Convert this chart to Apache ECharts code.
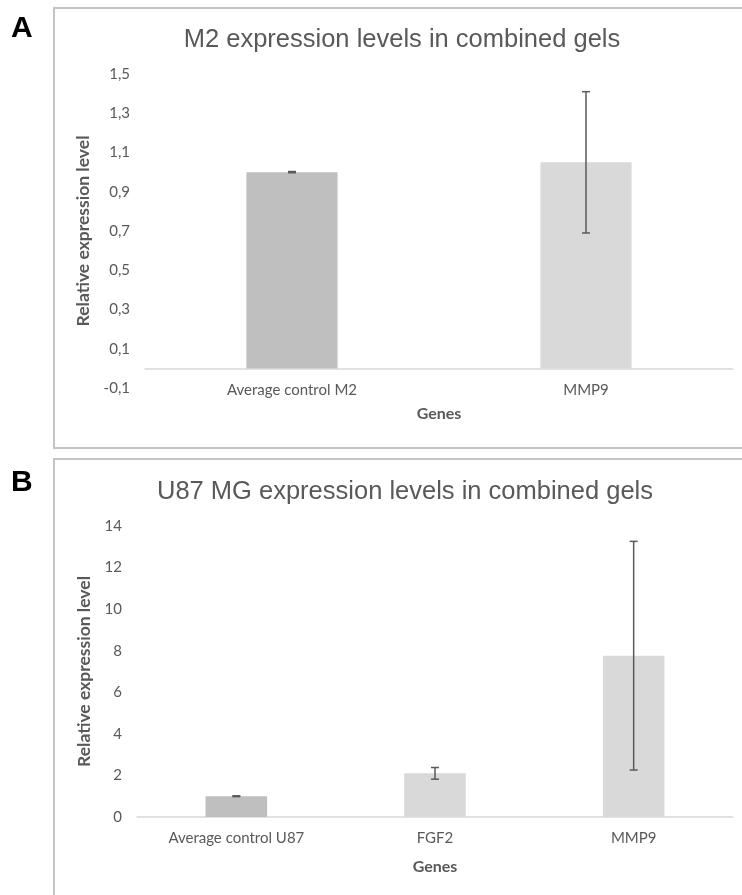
<!DOCTYPE html>
<html>
<head>
<meta charset="utf-8">
<script src="https://cdn.jsdelivr.net/npm/echarts@6/dist/echarts.min.js"></script>
<style>
  html, body { margin: 0; padding: 0; background: #fff; }
  #chart { width: 742px; height: 895px; }
</style>
</head>
<body>
<div id="chart"></div>
<script>
// panel A - M2
const genesA = ['Average control M2', 'MMP9'];
const meanA = [1.0, 1.05];
const errA = [0.003, 0.36];
const ticksA = [-0.1, 0.1, 0.3, 0.5, 0.7, 0.9, 1.1, 1.3, 1.5];

// panel B - U87 MG
const genesB = ['Average control U87', 'FGF2', 'MMP9'];
const meanB = [1.0, 2.1, 7.76];
const errB = [0.02, 0.28, 5.5];
const ticksB = [0, 2, 4, 6, 8, 10, 12, 14];

const barColors = ['#bfbfbf', '#d9d9d9'];
const textGray = '#595959';
const labelFont = 'Lato';

const chart = echarts.init(document.getElementById('chart'));

const barData = (vals) => vals.map((v, i) => ({
  value: v,
  itemStyle: { color: i === 0 ? barColors[0] : barColors[1] }
}));

const errData = (means, errs) => means.map((m, i) => [i, m, errs[i]]);

// I-shaped error bar
const renderErr = (params, api) => {
  const i = api.value(0);
  const m = api.value(1);
  const e = api.value(2);
  const top = api.coord([i, m + e]);
  const bot = api.coord([i, m - e]);
  const cap = 4;
  const style = { stroke: '#5a5a5a', lineWidth: 1.5 };
  return {
    type: 'group',
    children: [
      { type: 'line', shape: { x1: top[0], y1: top[1], x2: bot[0], y2: bot[1] }, style },
      { type: 'line', shape: { x1: top[0] - cap, y1: top[1], x2: top[0] + cap, y2: top[1] }, style },
      { type: 'line', shape: { x1: bot[0] - cap, y1: bot[1], x2: bot[0] + cap, y2: bot[1] }, style }
    ]
  };
};

const xAxisBase = (cats, gridIndex, gap, labelMargin) => ({
  type: 'category',
  gridIndex,
  data: cats,
  name: 'Genes',
  nameLocation: 'middle',
  nameGap: gap,
  nameTextStyle: { color: textGray, fontFamily: labelFont, fontSize: 16, fontWeight: 'bold' },
  axisTick: { show: false },
  axisLine: { lineStyle: { color: '#d9d9d9', width: 1.5 } },
  axisLabel: { color: textGray, fontFamily: labelFont, fontSize: 15, margin: labelMargin }
});

const yAxisBase = (ticks, gridIndex, gap, fmt) => ({
  type: 'value',
  gridIndex,
  min: ticks[0],
  max: ticks[ticks.length - 1],
  interval: ticks[1] - ticks[0],
  name: 'Relative expression level',
  nameLocation: 'middle',
  nameGap: gap,
  nameTextStyle: { color: textGray, fontFamily: labelFont, fontSize: 17.5, fontWeight: 'bold' },
  axisLine: { show: false },
  axisTick: { show: false },
  splitLine: { show: false },
  axisLabel: { color: textGray, fontFamily: labelFont, fontSize: 15, margin: 15, formatter: fmt }
});

const option = {
  animation: false,
  backgroundColor: '#fff',
  graphic: [
    { type: 'rect', shape: { x: 54, y: 8, width: 700, height: 440 }, style: { fill: 'none', stroke: '#c4c4c4', lineWidth: 2 } },
    { type: 'rect', shape: { x: 54, y: 459, width: 700, height: 450 }, style: { fill: 'none', stroke: '#c4c4c4', lineWidth: 2 } },
    { type: 'text', x: 11, y: 14, style: { text: 'A', font: 'bold 30px "Liberation Sans"', fill: '#000' } },
    { type: 'text', x: 11, y: 468, style: { text: 'B', font: 'bold 30px "Liberation Sans"', fill: '#000' } },
    { type: 'text', x: 402, y: 27, style: { text: 'M2 expression levels in combined gels', font: '25.5px "Liberation Sans"', fill: textGray, textAlign: 'center' } },
    { type: 'text', x: 405, y: 479, style: { text: 'U87 MG expression levels in combined gels', font: '25.5px "Liberation Sans"', fill: textGray, textAlign: 'center' } }
  ],
  grid: [
    { left: 145, right: 9, top: 74, height: 314 },
    { left: 137, right: 9, top: 526, height: 291 }
  ],
  xAxis: [
    xAxisBase(genesA, 0, 18, -5),
    xAxisBase(genesB, 1, 42, 14)
  ],
  yAxis: [
    yAxisBase(ticksA, 0, 47, (v) => v.toFixed(1).replace('.', ',')),
    yAxisBase(ticksB, 1, 39, (v) => String(v))
  ],
  series: [
    { type: 'bar', xAxisIndex: 0, yAxisIndex: 0, barWidth: '31%', data: barData(meanA) },
    { type: 'custom', xAxisIndex: 0, yAxisIndex: 0, z: 5, renderItem: renderErr, data: errData(meanA, errA) },
    { type: 'bar', xAxisIndex: 1, yAxisIndex: 1, barWidth: '31%', data: barData(meanB) },
    { type: 'custom', xAxisIndex: 1, yAxisIndex: 1, z: 5, renderItem: renderErr, data: errData(meanB, errB) }
  ]
};

chart.setOption(option);
</script>
</body>
</html>
